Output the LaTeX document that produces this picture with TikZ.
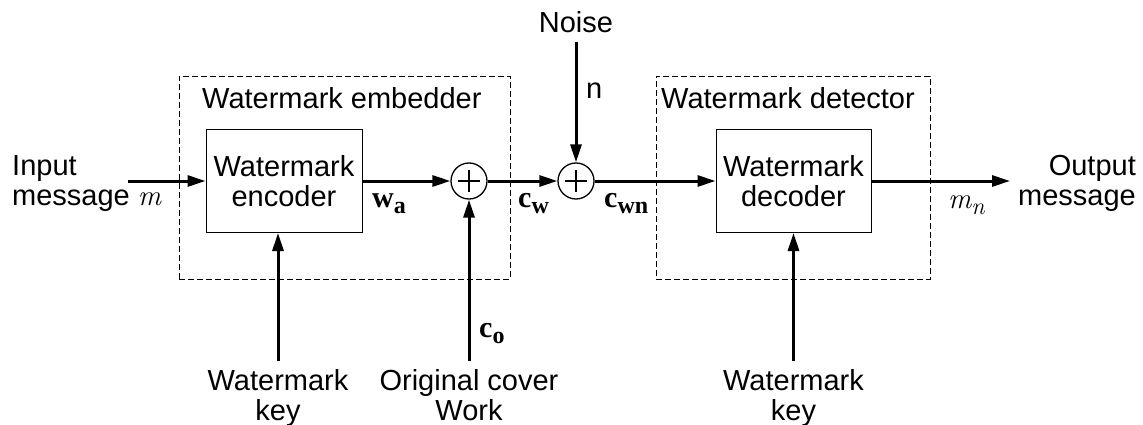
\documentclass[tikz,border=0pt]{standalone}
\usepackage{fontspec}
\setmainfont{Liberation Sans}
\newfontfamily\labserif{Liberation Serif}
\newfontfamily\labital{Latin Modern Roman}
\newcommand{\lsub}[1]{\raisebox{-6pt}{\fontsize{24}{24}\selectfont #1}}
\usetikzlibrary{arrows.meta,positioning,calc}
\tikzset{blk/.style={draw,line width=1pt,minimum width=156pt,minimum height=103pt,align=center,inner sep=0pt},grp/.style={draw,line width=0.8pt,dash pattern=on 6pt off 3pt,inner sep=0pt},adder/.style={circle,draw,line width=1.3pt,minimum size=36pt,inner sep=0pt,path picture={\draw[line width=1.8pt] ([xshift=-11pt]path picture bounding box.center)--([xshift=11pt]path picture bounding box.center) ([yshift=-11pt]path picture bounding box.center)--([yshift=11pt]path picture bounding box.center);}},arr/.style={-{Triangle[length=18pt,width=11pt]},line width=3pt},lbl/.style={align=center,inner sep=0pt},sym/.style={anchor=base west,inner sep=0pt,font=\fontsize{30}{30}\selectfont\labserif\bfseries}}

\begin{document}
\begin{tikzpicture}[x=1pt,y=-1pt,font=\fontsize{29}{30}\selectfont]
\useasboundingbox (0,0) rectangle (1143,425);
\node[grp,minimum width=331pt,minimum height=203pt] (embedder) at (344.5,177.5) {};
\node[grp,minimum width=274pt,minimum height=203pt] (detector) at (793,177.5) {};
\node[lbl,anchor=base west] (embtitle) at (202,109) {Watermark embedder};
\node[lbl,anchor=base west] (dettitle) at (661,109) {Watermark detector};
\node[blk] (encoder) at (284,181) {Watermark\\encoder};
\node[blk,minimum width=155pt] (decoder) at (793.5,181) {Watermark\\decoder};
\node[adder] (add1) at (469,181) {};
\node[adder] (add2) at (576,181) {};
\node[lbl,align=left,anchor=west] (input) at (12,183.5) {Input\\message {\labital\itshape m}};
\node[lbl,align=right,anchor=east] (output) at (1136,183.5) {Output\\message};
\node[lbl,inner sep=9pt,anchor=south] (noise) at (576,42) {Noise};
\node[lbl,inner sep=8pt,anchor=north] (key1) at (278,361) {Watermark\\key};
\node[lbl,inner sep=8pt,anchor=north] (cover) at (469,361) {Original cover\\Work};
\node[lbl,inner sep=8pt,anchor=north] (key2) at (793.5,361) {Watermark\\key};
\coordinate (msgin) at (128,181);
\coordinate (msgout) at (1010,181);
\node[sym] (wa) at (372,207) {w\lsub{a}};
\node[sym] (cw) at (518,207) {c\lsub{w}};
\node[sym] (cwn) at (604,207) {c\lsub{wn}};
\node[sym] (co) at (479,337) {c\lsub{o}};
\node[lbl,anchor=base west] (nlab) at (586,99) {n};
\node[lbl,anchor=base west,font=\fontsize{29}{30}\selectfont\labital\itshape] (mn) at (948,208) {m\lsub{n}};
\draw[arr] (msgin)--(encoder); \draw[arr] (encoder)--(add1); \draw[arr] (add1)--(add2);
\draw[arr] (add2)--(decoder); \draw[arr] (decoder)--(msgout);
\draw[arr] (noise)--(add2); \draw[arr] (cover)--(add1);
\draw[arr] (key1.north)--(key1.north|-encoder.south); \draw[arr] (key2)--(decoder);
\end{tikzpicture}
\end{document}
